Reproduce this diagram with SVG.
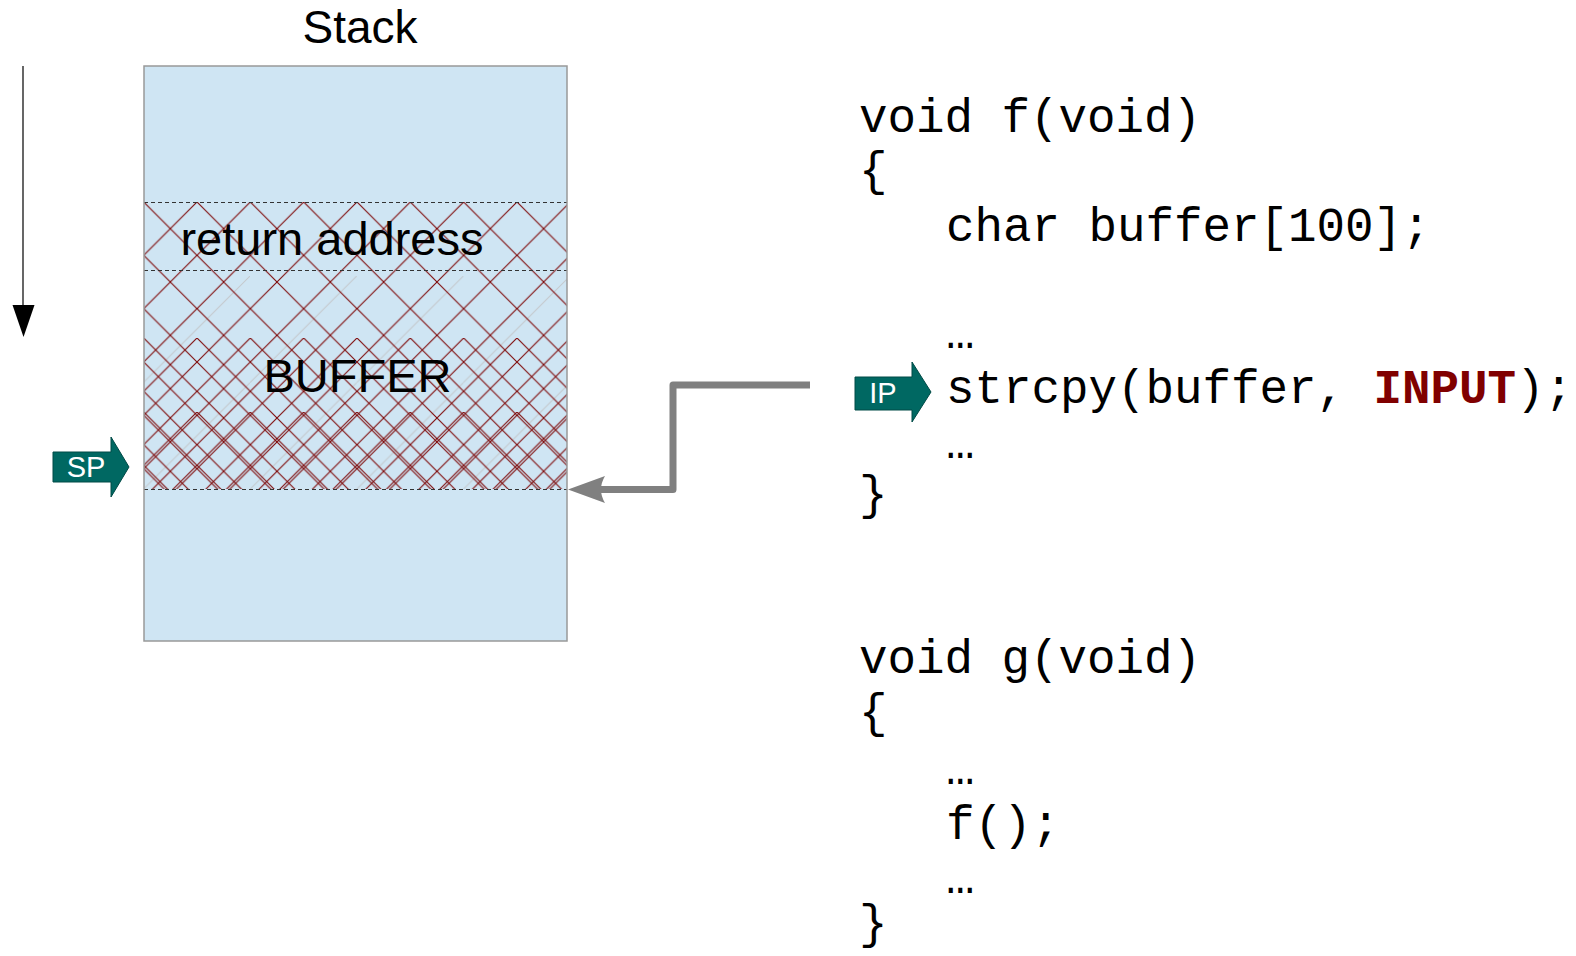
<svg xmlns="http://www.w3.org/2000/svg" width="1576" height="956" viewBox="0 0 1576 956">
  <style>
    .sans { font-family: "Liberation Sans", Arial, sans-serif; }
    .mono { font-family: "Liberation Mono", "Courier New", monospace; font-size: 47.5px; fill: #000; }
    .hot { fill: #800000; font-weight: bold; }
    .dash { stroke: #333; stroke-width: 1; stroke-dasharray: 4 3; fill: none; }
    .ptr { fill: #006862; stroke: #004a46; stroke-width: 1; }
    .ptr-label { font-family: "Liberation Sans", Arial, sans-serif; font-size: 29px; fill: #fff; text-anchor: middle; }
    .hatch { stroke: #800c0c; stroke-width: 1.15; fill: none; }
  </style>
  <defs>
    <!-- diamond cross-hatch, one tile per diamond, apex at tile corners -->
    <pattern id="hatchA" patternUnits="userSpaceOnUse" x="143.67" y="202" width="53.33" height="53.33">
      <path class="hatch" d="M-2,-2 L55.33,55.33 M55.33,-2 L-2,55.33"/>
    </pattern>
    <pattern id="hatchB" patternUnits="userSpaceOnUse" x="143.67" y="338" width="53.33" height="53.33">
      <path class="hatch" d="M-2,-2 L55.33,55.33 M55.33,-2 L-2,55.33"/>
    </pattern>
    <pattern id="hatchC" patternUnits="userSpaceOnUse" x="143.67" y="412" width="53.33" height="53.33">
      <path class="hatch" d="M-2,-2 L55.33,55.33 M55.33,-2 L-2,55.33"/>
    </pattern>
    <!-- faint single-direction hatch -->
    <pattern id="hatchG" patternUnits="userSpaceOnUse" x="143.33" y="276" width="106.67" height="106.67">
      <path d="M-2,108.67 L108.67,-2" stroke="#c4c8cc" stroke-width="1" fill="none"/>
    </pattern>
  </defs>

  <!-- growth direction arrow -->
  <g id="direction">
    <line x1="23" y1="66" x2="23" y2="306" stroke="#000" stroke-width="1.2"/>
    <polygon points="12.5,305 34.5,305 23.5,337" fill="#000"/>
  </g>

  <!-- the stack -->
  <g id="stack">
    <text class="sans" x="360" y="43" font-size="46" text-anchor="middle">Stack</text>
    <rect x="144" y="66" width="423" height="575" fill="#cfe5f3"/>
    <rect x="144" y="276" width="423" height="213" fill="url(#hatchG)"/>
    <rect x="144" y="202" width="423" height="287" fill="url(#hatchA)"/>
    <rect x="144" y="338" width="423" height="151" fill="url(#hatchB)"/>
    <rect x="144" y="412" width="423" height="77" fill="url(#hatchC)"/>
    <line class="dash" x1="144" y1="202.5" x2="567" y2="202.5"/>
    <line class="dash" x1="144" y1="270.5" x2="567" y2="270.5"/>
    <line class="dash" x1="144" y1="489.5" x2="567" y2="489.5" stroke="#555"/>
    <rect x="144" y="66" width="423" height="575" fill="none" stroke="#999" stroke-width="1.5"/>
  </g>

  <g id="return-address">
    <text class="sans" x="332" y="255" font-size="47" text-anchor="middle">return address</text>
  </g>

  <g id="buffer">
    <text class="sans" x="357.5" y="392" font-size="47" text-anchor="middle">BUFFER</text>
  </g>

  <!-- stack pointer -->
  <g id="sp">
    <polygon class="ptr" points="53,452 111,452 111,437 129,467 111,497 111,482 53,482"/>
    <text class="ptr-label" x="86" y="477">SP</text>
  </g>

  <!-- instruction pointer -->
  <g id="ip">
    <polygon class="ptr" points="855,377 912,377 912,362 931,392 912,422 912,410 855,410"/>
    <text class="ptr-label" x="883" y="403">IP</text>
  </g>

  <!-- function f -->
  <g id="func-f">
    <text class="mono" x="859" y="132">void f(void)</text>
    <text class="mono" x="859" y="185">{</text>
    <text class="mono" x="946" y="241">char buffer[100];</text>
    <text class="mono" x="946" y="348">…</text>
    <text class="mono" x="946" y="403">strcpy(buffer, <tspan class="hot">INPUT</tspan>);</text>
    <text class="mono" x="946" y="458">…</text>
    <text class="mono" x="859" y="509">}</text>
  </g>

  <!-- function g -->
  <g id="func-g">
    <text class="mono" x="859" y="673">void g(void)</text>
    <text class="mono" x="859" y="727">{</text>
    <text class="mono" x="946" y="784">…</text>
    <text class="mono" x="946" y="839">f();</text>
    <text class="mono" x="946" y="893">…</text>
    <text class="mono" x="859" y="938">}</text>
  </g>

  <!-- connectors -->
  <g id="connectors">
    <path d="M810,385 H673 V489.5 H600" fill="none" stroke="#808080" stroke-width="7" stroke-linejoin="round"/>
    <path d="M568,489.5 L605,476 Q597,489.5 605,503 Z" fill="#808080"/>
  </g>
</svg>
